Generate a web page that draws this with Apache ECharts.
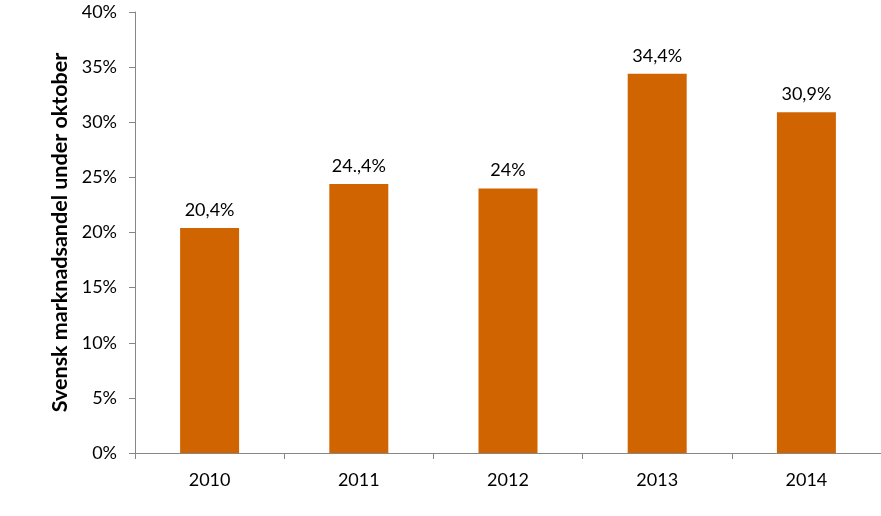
<!DOCTYPE html>
<html>
<head>
<meta charset="utf-8">
<script src="https://cdn.jsdelivr.net/npm/echarts@6/dist/echarts.min.js"></script>
<style>
html,body{margin:0;padding:0;background:#fff;}
#chart{width:881px;height:516px;}
</style>
</head>
<body>
<div id="chart"></div>
<script>
const categories = ['2010', '2011', '2012', '2013', '2014'];
const values = [20.4, 24.4, 24.0, 34.4, 30.9];
const valueLabels = ['20,4%', '24.,4%', '24%', '34,4%', '30,9%'];
const yAxisTitle = 'Svensk marknadsandel under oktober';

const chart = echarts.init(document.getElementById('chart'));
const font = 'Lato, "Open Sans", sans-serif';
chart.setOption({
  animation: false,
  grid: { left: 135, top: 12, width: 747, bottom: 63, containLabel: false },
  xAxis: {
    type: 'category',
    data: categories,
    axisLine: { lineStyle: { color: '#868686', width: 1 } },
    axisTick: { show: true, alignWithLabel: false, length: 6, lineStyle: { color: '#868686' } },
    axisLabel: { color: '#000', fontSize: 18, fontFamily: font, margin: 18 },
    splitLine: { show: false }
  },
  yAxis: {
    type: 'value',
    min: 0, max: 40, interval: 5,
    name: yAxisTitle,
    nameLocation: 'middle',
    nameGap: 56,
    nameTextStyle: { color: '#000', fontSize: 21.5, fontWeight: 'bold', fontFamily: font },
    axisLine: { show: true, lineStyle: { color: '#868686', width: 1 } },
    axisTick: { show: true, length: 6, lineStyle: { color: '#868686' } },
    axisLabel: { color: '#000', fontSize: 18, fontFamily: font, margin: 18, formatter: v => v + '%' },
    splitLine: { show: false }
  },
  series: [{
    type: 'bar',
    data: values,
    barWidth: 59,
    itemStyle: { color: '#D06400' },
    label: {
      show: true,
      position: 'top',
      distance: 9,
      color: '#000',
      fontSize: 18,
      fontFamily: font,
      formatter: p => valueLabels[p.dataIndex]
    }
  }]
});
</script>
</body>
</html>
